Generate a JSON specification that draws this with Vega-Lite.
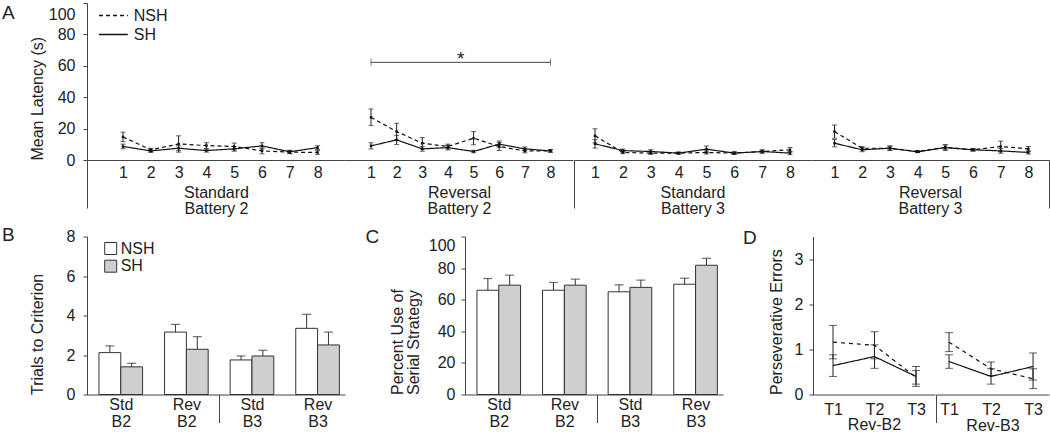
{
  "$schema": "https://vega.github.io/schema/vega-lite/v6.json",
  "background": "white",
  "padding": {"left": 2, "top": 2, "right": 0, "bottom": 0},
  "datasets": {
    "a1": [
      {"t":1,"c":"NSH","m":14.7,"lo":11.7,"hi":17.7},{"t":2,"c":"NSH","m":6.5,"lo":5.5,"hi":7.5},{"t":3,"c":"NSH","m":10.2,"lo":5.0,"hi":15.4},{"t":4,"c":"NSH","m":9.2,"lo":7.4,"hi":11.0},
      {"t":5,"c":"NSH","m":8.6,"lo":6.4,"hi":10.8},{"t":6,"c":"NSH","m":5.8,"lo":4.0,"hi":7.6},{"t":7,"c":"NSH","m":5.0,"lo":4.0,"hi":6.0},{"t":8,"c":"NSH","m":4.8,"lo":3.6,"hi":6.0},
      {"t":1,"c":"SH","m":8.6,"lo":7.1,"hi":10.1},{"t":2,"c":"SH","m":5.8,"lo":4.8,"hi":6.8},{"t":3,"c":"SH","m":7.5,"lo":6.0,"hi":9.0},{"t":4,"c":"SH","m":6.0,"lo":5.0,"hi":7.0},
      {"t":5,"c":"SH","m":7.1,"lo":5.6,"hi":8.6},{"t":6,"c":"SH","m":9.0,"lo":7.0,"hi":11.0},{"t":7,"c":"SH","m":5.2,"lo":4.2,"hi":6.2},{"t":8,"c":"SH","m":7.9,"lo":6.7,"hi":9.1}
    ],
    "a2": [
      {"t":1,"c":"NSH","m":27.2,"lo":21.9,"hi":32.5},{"t":2,"c":"NSH","m":18.1,"lo":12.8,"hi":23.4},{"t":3,"c":"NSH","m":10.7,"lo":7.1,"hi":14.3},{"t":4,"c":"NSH","m":8.6,"lo":7.1,"hi":10.1},
      {"t":5,"c":"NSH","m":13.9,"lo":9.7,"hi":18.1},{"t":6,"c":"NSH","m":8.6,"lo":6.1,"hi":11.1},{"t":7,"c":"NSH","m":5.8,"lo":4.6,"hi":7.0},{"t":8,"c":"NSH","m":5.8,"lo":5.0,"hi":6.6},
      {"t":1,"c":"SH","m":9.0,"lo":7.0,"hi":11.0},{"t":2,"c":"SH","m":12.8,"lo":9.9,"hi":15.7},{"t":3,"c":"SH","m":7.1,"lo":5.6,"hi":8.6},{"t":4,"c":"SH","m":7.9,"lo":6.4,"hi":9.4},
      {"t":5,"c":"SH","m":5.4,"lo":4.6,"hi":6.2},{"t":6,"c":"SH","m":10.1,"lo":8.1,"hi":12.1},{"t":7,"c":"SH","m":7.1,"lo":5.9,"hi":8.3},{"t":8,"c":"SH","m":5.8,"lo":5.0,"hi":6.6}
    ],
    "sig": [
      {"t":1,"m":62.2,"end":1},{"t":4.5,"m":62.2,"end":0,"label":"*"},{"t":8,"m":62.2,"end":1}
    ],
    "a3": [
      {"t":1,"c":"NSH","m":15.4,"lo":10.9,"hi":19.9},{"t":2,"c":"NSH","m":4.8,"lo":4.0,"hi":5.6},{"t":3,"c":"NSH","m":4.4,"lo":3.6,"hi":5.2},{"t":4,"c":"NSH","m":4.4,"lo":3.8,"hi":5.0},
      {"t":5,"c":"NSH","m":4.8,"lo":3.8,"hi":5.8},{"t":6,"c":"NSH","m":4.4,"lo":3.6,"hi":5.2},{"t":7,"c":"NSH","m":5.4,"lo":4.4,"hi":6.4},{"t":8,"c":"NSH","m":6.5,"lo":5.0,"hi":8.0},
      {"t":1,"c":"SH","m":10.3,"lo":7.6,"hi":13.0},{"t":2,"c":"SH","m":6.0,"lo":5.0,"hi":7.0},{"t":3,"c":"SH","m":5.4,"lo":4.2,"hi":6.6},{"t":4,"c":"SH","m":4.4,"lo":3.8,"hi":5.0},
      {"t":5,"c":"SH","m":6.9,"lo":4.9,"hi":8.9},{"t":6,"c":"SH","m":4.4,"lo":3.6,"hi":5.2},{"t":7,"c":"SH","m":5.4,"lo":4.4,"hi":6.4},{"t":8,"c":"SH","m":4.4,"lo":3.4,"hi":5.4}
    ],
    "a4": [
      {"t":1,"c":"NSH","m":18.1,"lo":13.9,"hi":22.3},{"t":2,"c":"NSH","m":7.5,"lo":6.5,"hi":8.5},{"t":3,"c":"NSH","m":7.5,"lo":6.3,"hi":8.7},{"t":4,"c":"NSH","m":5.4,"lo":4.8,"hi":6.0},
      {"t":5,"c":"NSH","m":8.1,"lo":6.6,"hi":9.6},{"t":6,"c":"NSH","m":6.5,"lo":5.7,"hi":7.3},{"t":7,"c":"NSH","m":8.6,"lo":5.2,"hi":12.0},{"t":8,"c":"NSH","m":7.1,"lo":5.6,"hi":8.6},
      {"t":1,"c":"SH","m":10.7,"lo":8.4,"hi":13.0},{"t":2,"c":"SH","m":6.5,"lo":5.3,"hi":7.7},{"t":3,"c":"SH","m":7.5,"lo":6.0,"hi":9.0},{"t":4,"c":"SH","m":5.2,"lo":4.7,"hi":5.7},
      {"t":5,"c":"SH","m":7.9,"lo":6.1,"hi":9.7},{"t":6,"c":"SH","m":6.5,"lo":5.7,"hi":7.3},{"t":7,"c":"SH","m":5.8,"lo":4.3,"hi":7.3},{"t":8,"c":"SH","m":4.8,"lo":3.8,"hi":5.8}
    ],
    "b": [
      {"g":"Std B2","c":"NSH","m":2.12,"hi":2.46},{"g":"Std B2","c":"SH","m":1.4,"hi":1.58},
      {"g":"Rev B2","c":"NSH","m":3.16,"hi":3.55},{"g":"Rev B2","c":"SH","m":2.29,"hi":2.93},
      {"g":"Std B3","c":"NSH","m":1.75,"hi":1.95},{"g":"Std B3","c":"SH","m":1.95,"hi":2.24},
      {"g":"Rev B3","c":"NSH","m":3.35,"hi":4.06},{"g":"Rev B3","c":"SH","m":2.51,"hi":3.16}
    ],
    "c": [
      {"g":"Std B2","c":"NSH","m":66.0,"hi":73.4},{"g":"Std B2","c":"SH","m":69.2,"hi":75.5},
      {"g":"Rev B2","c":"NSH","m":66.0,"hi":70.9},{"g":"Rev B2","c":"SH","m":69.2,"hi":73.0},
      {"g":"Std B3","c":"NSH","m":65.0,"hi":69.4},{"g":"Std B3","c":"SH","m":67.8,"hi":72.4},
      {"g":"Rev B3","c":"NSH","m":69.8,"hi":73.6},{"g":"Rev B3","c":"SH","m":81.8,"hi":86.2}
    ],
    "d1": [
      {"t":1,"c":"NSH","m":1.16,"lo":0.79,"hi":1.53},{"t":2,"c":"NSH","m":1.09,"lo":0.79,"hi":1.39},{"t":3,"c":"NSH","m":0.38,"lo":0.23,"hi":0.53},
      {"t":1,"c":"SH","m":0.64,"lo":0.40,"hi":0.88},{"t":2,"c":"SH","m":0.84,"lo":0.58,"hi":1.10},{"t":3,"c":"SH","m":0.40,"lo":0.18,"hi":0.62}
    ],
    "d2": [
      {"t":1,"c":"NSH","m":1.16,"lo":0.95,"hi":1.37},{"t":2,"c":"NSH","m":0.57,"lo":0.42,"hi":0.72},{"t":3,"c":"NSH","m":0.35,"lo":0.13,"hi":0.57},
      {"t":1,"c":"SH","m":0.73,"lo":0.58,"hi":0.88},{"t":2,"c":"SH","m":0.40,"lo":0.23,"hi":0.57},{"t":3,"c":"SH","m":0.62,"lo":0.32,"hi":0.92}
    ]
  },
  "vconcat": [
    {
      "hconcat": [
        {
          "width": 258, "height": 157,
          "title": {"text": "A", "dx": -85, "dy": 24.5},
          "data": {"name": "a1"},
          "encoding": {
            "x": {"field": "t", "type": "quantitative", "scale": {"domain": [-0.295, 8.986], "nice": false, "zero": false},
                  "axis": {"title": ["Standard", "Battery 2"], "values": [-0.293,1,2,3,4,5,6,7,8], "labelExpr": "datum.value < 0.5 ? '' : datum.label", "format": "d", "ticks": true, "tickSize": 48, "tickColor": "#444",
                           "tickOpacity": {"condition": {"test": "datum.value < 0.5", "value": 1}, "value": 0}, "labelPadding": -44, "titlePadding": -24, "titleLineHeight": 16, "labelFlush": false, "labelOverlap": false}},
            "y": {"field": "m", "type": "quantitative", "scale": {"domain": [0, 100], "nice": false},
                  "axis": {"title": "Mean Latency (s)", "values": [0,20,40,60,80,100], "tickSize": 4, "labelPadding": 8, "titleAnchor": "start", "titlePadding": 3,
                           "labelBaseline": {"condition": {"test": "datum.value == 100", "value": "top"}, "value": "middle"},
                           "labelOffset": {"condition": {"test": "datum.value == 100", "value": 3}, "value": 0}}}
          },
          "layer": [
            {"mark": {"type": "errorbar", "ticks": {"size": 5, "thickness": 1, "color": "#222"}, "rule": {"color": "#222", "strokeWidth": 1}},
             "encoding": {"y": {"field": "lo", "type": "quantitative", "scale": {"domain": [0, 100], "nice": false},
                                "axis": {"title": "Mean Latency (s)", "values": [0,20,40,60,80,100], "tickSize": 4, "labelPadding": 8, "titleAnchor": "start", "titlePadding": 3,
                                         "labelBaseline": {"condition": {"test": "datum.value == 100", "value": "top"}, "value": "middle"},
                                         "labelOffset": {"condition": {"test": "datum.value == 100", "value": 3}, "value": 0}}},
                          "y2": {"field": "hi"}}},
            {"mark": {"type": "line", "color": "#111", "strokeWidth": 1.2},
             "encoding": {"strokeDash": {"field": "c", "type": "nominal", "scale": {"domain": ["NSH", "SH"], "range": [[4, 3], [1, 0]]},
                          "legend": {"title": null, "orient": "none", "legendX": 17.4, "legendY": 3.5, "symbolType": "M-1.8,0H1.8", "symbolSize": 256, "symbolStrokeWidth": 1.3, "symbolStrokeColor": "#111", "labelOffset": 11.4, "rowPadding": 2}}}},
            {"mark": {"type": "point", "shape": "square", "filled": true, "size": 6, "color": "#111", "opacity": 1}}
          ]
        },
        {
          "width": 228, "height": 157,
          "data": {"name": "a2"},
          "encoding": {
            "x": {"field": "t", "type": "quantitative", "scale": {"domain": [-0.014, 8.878], "nice": false, "zero": false},
                  "axis": {"title": ["Reversal", "Battery 2"], "values": [1,2,3,4,5,6,7,8], "format": "d", "ticks": true, "tickSize": 48, "tickOpacity": 0, "labelPadding": -44, "titlePadding": -24, "titleLineHeight": 16, "labelFlush": false, "labelOverlap": false}},
            "y": {"field": "m", "type": "quantitative", "scale": {"domain": [0, 100], "nice": false}, "axis": null}
          },
          "layer": [
            {"mark": {"type": "errorbar", "ticks": {"size": 5, "thickness": 1, "color": "#222"}, "rule": {"color": "#222", "strokeWidth": 1}},
             "encoding": {"y": {"field": "lo", "type": "quantitative", "scale": {"domain": [0, 100], "nice": false}, "axis": null}, "y2": {"field": "hi"}}},
            {"mark": {"type": "line", "color": "#111", "strokeWidth": 1.2},
             "encoding": {"strokeDash": {"field": "c", "type": "nominal", "scale": {"domain": ["NSH", "SH"], "range": [[4, 3], [1, 0]]}, "legend": null}}},
            {"mark": {"type": "point", "shape": "square", "filled": true, "size": 6, "color": "#111", "opacity": 1}},
            {"data": {"name": "sig"}, "mark": {"type": "line", "color": "#444", "strokeWidth": 1}},
            {"data": {"name": "sig"}, "transform": [{"filter": "datum.end == 1"}], "mark": {"type": "tick", "orient": "vertical", "size": 7, "thickness": 1, "color": "#444"}},
            {"data": {"name": "sig"}, "transform": [{"filter": "datum.end == 0"}], "mark": {"type": "text", "fontSize": 19, "font": "Liberation Sans", "color": "#222", "baseline": "alphabetic", "align": "center", "dy": 3},
             "encoding": {"text": {"field": "label"}}}
          ]
        },
        {
          "width": 237, "height": 157,
          "data": {"name": "a3"},
          "encoding": {
            "x": {"field": "t", "type": "quantitative", "scale": {"domain": [0.246, 8.753], "nice": false, "zero": false},
                  "axis": {"title": ["Standard", "Battery 3"], "values": [0.248,1,2,3,4,5,6,7,8], "labelExpr": "datum.value < 0.5 ? '' : datum.label", "format": "d", "ticks": true, "tickSize": 48, "tickColor": "#444",
                           "tickOpacity": {"condition": {"test": "datum.value < 0.5", "value": 1}, "value": 0}, "labelPadding": -44, "titlePadding": -24, "titleLineHeight": 16, "labelFlush": false, "labelOverlap": false}},
            "y": {"field": "m", "type": "quantitative", "scale": {"domain": [0, 100], "nice": false}, "axis": null}
          },
          "layer": [
            {"mark": {"type": "errorbar", "ticks": {"size": 5, "thickness": 1, "color": "#222"}, "rule": {"color": "#222", "strokeWidth": 1}},
             "encoding": {"y": {"field": "lo", "type": "quantitative", "scale": {"domain": [0, 100], "nice": false}, "axis": null}, "y2": {"field": "hi"}}},
            {"mark": {"type": "line", "color": "#111", "strokeWidth": 1.2},
             "encoding": {"strokeDash": {"field": "c", "type": "nominal", "scale": {"domain": ["NSH", "SH"], "range": [[4, 3], [1, 0]]}, "legend": null}}},
            {"mark": {"type": "point", "shape": "square", "filled": true, "size": 6, "color": "#111", "opacity": 1}}
          ]
        },
        {
          "width": 238, "height": 157,
          "data": {"name": "a4"},
          "encoding": {
            "x": {"field": "t", "type": "quantitative", "scale": {"domain": [0.152, 8.744], "nice": false, "zero": false},
                  "axis": {"title": ["Reversal", "Battery 3"], "values": [1,2,3,4,5,6,7,8,8.742], "labelExpr": "datum.value > 8.5 ? '' : datum.label", "format": "d", "ticks": true, "tickSize": 48, "tickColor": "#444",
                           "tickOpacity": {"condition": {"test": "datum.value > 8.5", "value": 1}, "value": 0}, "labelPadding": -44, "titlePadding": -24, "titleLineHeight": 16, "labelFlush": false, "labelOverlap": false}},
            "y": {"field": "m", "type": "quantitative", "scale": {"domain": [0, 100], "nice": false}, "axis": null}
          },
          "layer": [
            {"mark": {"type": "errorbar", "ticks": {"size": 5, "thickness": 1, "color": "#222"}, "rule": {"color": "#222", "strokeWidth": 1}},
             "encoding": {"y": {"field": "lo", "type": "quantitative", "scale": {"domain": [0, 100], "nice": false}, "axis": null}, "y2": {"field": "hi"}}},
            {"mark": {"type": "line", "color": "#111", "strokeWidth": 1.2},
             "encoding": {"strokeDash": {"field": "c", "type": "nominal", "scale": {"domain": ["NSH", "SH"], "range": [[4, 3], [1, 0]]}, "legend": null}}},
            {"mark": {"type": "point", "shape": "square", "filled": true, "size": 6, "color": "#111", "opacity": 1}}
          ]
        }
      ],
      "spacing": 0,
      "resolve": {"scale": {"strokeDash": "independent"}, "legend": {"strokeDash": "independent"}}
    },
    {
      "hconcat": [
        {
          "width": 258, "height": 158,
          "title": {"text": "B", "dx": -85, "dy": 20.5},
          "data": {"name": "b"},
          "encoding": {
            "x": {"field": "g", "type": "nominal", "sort": null,
                  "scale": {"type": "band", "domain": ["Std B2", "Rev B2", "Std B3", "Rev B3"], "paddingInner": 0.335, "paddingOuter": 0.134, "align": 0.68},
                  "axis": {"title": null, "labelExpr": "split(datum.label, ' ')", "ticks": true, "tickSize": 28, "tickOffset": -32.8, "labelOffset": 32.8, "tickColor": "#444",
                           "tickOpacity": {"condition": {"test": "datum.value == 'Std B3'", "value": 1}, "value": 0}, "labelPadding": -26, "labelAngle": 0, "labelLineHeight": 16.7}},
            "y": {"field": "m", "type": "quantitative", "scale": {"domain": [0, 8], "nice": false},
                  "axis": {"title": "Trials to Criterion", "values": [0,2,4,6,8], "tickSize": 4, "labelPadding": 8, "titleAnchor": "start", "titlePadding": 20.7}}
          },
          "layer": [
            {"mark": {"type": "rule", "color": "#333", "strokeWidth": 1},
             "encoding": {"xOffset": {"field": "c", "type": "nominal", "scale": {"domain": ["NSH", "SH"], "paddingInner": 0, "paddingOuter": 0}}, "y2": {"field": "hi"}}},
            {"mark": {"type": "bar", "stroke": "#333", "strokeWidth": 1},
             "encoding": {"xOffset": {"field": "c", "type": "nominal", "scale": {"domain": ["NSH", "SH"], "paddingInner": 0, "paddingOuter": 0}},
                          "fill": {"field": "c", "type": "nominal", "scale": {"domain": ["NSH", "SH"], "range": ["#ffffff", "#cfcfcf"]},
                                   "legend": {"title": null, "orient": "none", "legendX": 15.7, "legendY": 4, "symbolType": "square", "symbolSize": 144, "symbolStrokeColor": "#333", "symbolStrokeWidth": 1, "labelOffset": 2, "rowPadding": 1.7}}}},
            {"mark": {"type": "tick", "orient": "horizontal", "size": 9, "thickness": 1.2, "color": "#333"},
             "encoding": {"xOffset": {"field": "c", "type": "nominal", "scale": {"domain": ["NSH", "SH"], "paddingInner": 0, "paddingOuter": 0}},
                          "y": {"field": "hi", "type": "quantitative", "scale": {"domain": [0, 8], "nice": false},
                                "axis": {"title": "Trials to Criterion", "values": [0,2,4,6,8], "tickSize": 4, "labelPadding": 8, "titleAnchor": "start", "titlePadding": 20.7}}}}
          ]
        },
        {
          "width": 258, "height": 158,
          "title": {"text": "C", "dx": -99.5, "dy": 14.5},
          "data": {"name": "c"},
          "encoding": {
            "x": {"field": "g", "type": "nominal", "sort": null,
                  "scale": {"type": "band", "domain": ["Std B2", "Rev B2", "Std B3", "Rev B3"], "paddingInner": 0.335, "paddingOuter": 0.134, "align": 0.68},
                  "axis": {"title": null, "labelExpr": "split(datum.label, ' ')", "ticks": true, "tickSize": 28, "tickOffset": -32.8, "labelOffset": 32.8, "tickColor": "#444",
                           "tickOpacity": {"condition": {"test": "datum.value == 'Std B3'", "value": 1}, "value": 0}, "labelPadding": -26, "labelAngle": 0, "labelLineHeight": 16.7}},
            "y": {"field": "m", "type": "quantitative", "scale": {"domain": [0, 100], "nice": false},
                  "axis": {"title": ["Percent Use of", "Serial Strategy"], "values": [0,20,40,60,80,100], "tickSize": 4, "labelPadding": 6, "titleAnchor": "start", "titlePadding": 6.9, "titleLineHeight": 15.5,
                           "labelBaseline": {"condition": {"test": "datum.value == 100", "value": "top"}, "value": "middle"},
                           "labelOffset": {"condition": {"test": "datum.value == 100", "value": 1}, "value": 0}}}
          },
          "layer": [
            {"mark": {"type": "rule", "color": "#333", "strokeWidth": 1},
             "encoding": {"xOffset": {"field": "c", "type": "nominal", "scale": {"domain": ["NSH", "SH"], "paddingInner": 0, "paddingOuter": 0}}, "y2": {"field": "hi"}}},
            {"mark": {"type": "bar", "stroke": "#333", "strokeWidth": 1},
             "encoding": {"xOffset": {"field": "c", "type": "nominal", "scale": {"domain": ["NSH", "SH"], "paddingInner": 0, "paddingOuter": 0}},
                          "fill": {"field": "c", "type": "nominal", "scale": {"domain": ["NSH", "SH"], "range": ["#ffffff", "#cfcfcf"]}, "legend": null}}},
            {"mark": {"type": "tick", "orient": "horizontal", "size": 9, "thickness": 1.2, "color": "#333"},
             "encoding": {"xOffset": {"field": "c", "type": "nominal", "scale": {"domain": ["NSH", "SH"], "paddingInner": 0, "paddingOuter": 0}},
                          "y": {"field": "hi", "type": "quantitative", "scale": {"domain": [0, 100], "nice": false},
                                "axis": {"title": ["Percent Use of", "Serial Strategy"], "values": [0,20,40,60,80,100], "tickSize": 4, "labelPadding": 6, "titleAnchor": "start", "titlePadding": 6.9, "titleLineHeight": 15.5,
                                         "labelBaseline": {"condition": {"test": "datum.value == 100", "value": "top"}, "value": "middle"},
                                         "labelOffset": {"condition": {"test": "datum.value == 100", "value": 1}, "value": 0}}}}}
          ]
        },
        {
          "hconcat": [
            {
              "width": 122, "height": 158,
              "title": {"text": "D", "dx": -70, "dy": 15.7},
              "data": {"name": "d1"},
              "encoding": {
                "x": {"field": "t", "type": "quantitative", "scale": {"domain": [0.518, 3.458], "nice": false, "zero": false},
                      "axis": {"title": "Rev-B2", "values": [1,2,3], "labelExpr": "'T' + datum.value", "ticks": true, "tickSize": 28, "tickOpacity": 0, "labelPadding": -21.5, "titlePadding": -6, "labelFlush": false}},
                "y": {"field": "m", "type": "quantitative", "scale": {"domain": [0, 3.5], "nice": false},
                      "axis": {"title": "Perseverative Errors", "values": [0,1,2,3], "tickSize": 4, "labelPadding": 6, "titleAnchor": "start", "titlePadding": 9.4}}
              },
              "layer": [
                {"mark": {"type": "errorbar", "ticks": {"size": 8, "thickness": 1, "color": "#222"}, "rule": {"color": "#222", "strokeWidth": 1}},
                 "encoding": {"y": {"field": "lo", "type": "quantitative", "scale": {"domain": [0, 3.5], "nice": false},
                                    "axis": {"title": "Perseverative Errors", "values": [0,1,2,3], "tickSize": 4, "labelPadding": 6, "titleAnchor": "start", "titlePadding": 9.4}},
                              "y2": {"field": "hi"}}},
                {"mark": {"type": "line", "color": "#111", "strokeWidth": 1.2},
                 "encoding": {"strokeDash": {"field": "c", "type": "nominal", "scale": {"domain": ["NSH", "SH"], "range": [[4, 4], [1, 0]]}, "legend": null}}}
              ]
            },
            {
              "width": 113, "height": 158,
              "data": {"name": "d2"},
              "encoding": {
                "x": {"field": "t", "type": "quantitative", "scale": {"domain": [0.69, 3.38], "nice": false, "zero": false},
                      "axis": {"title": "Rev-B3", "values": [0.692,1,2,3], "labelExpr": "datum.value < 0.9 ? '' : 'T' + datum.value", "ticks": true, "tickSize": 28, "tickColor": "#444",
                               "tickOpacity": {"condition": {"test": "datum.value < 0.9", "value": 1}, "value": 0}, "labelPadding": -21.5, "titlePadding": -6, "labelFlush": false, "labelOverlap": false}},
                "y": {"field": "m", "type": "quantitative", "scale": {"domain": [0, 3.5], "nice": false}, "axis": null}
              },
              "layer": [
                {"mark": {"type": "errorbar", "ticks": {"size": 8, "thickness": 1, "color": "#222"}, "rule": {"color": "#222", "strokeWidth": 1}},
                 "encoding": {"y": {"field": "lo", "type": "quantitative", "scale": {"domain": [0, 3.5], "nice": false}, "axis": null}, "y2": {"field": "hi"}}},
                {"mark": {"type": "line", "color": "#111", "strokeWidth": 1.2},
                 "encoding": {"strokeDash": {"field": "c", "type": "nominal", "scale": {"domain": ["NSH", "SH"], "range": [[4, 4], [1, 0]]}, "legend": null}}}
              ]
            }
          ],
          "spacing": 0,
          "resolve": {"scale": {"strokeDash": "independent"}, "legend": {"strokeDash": "independent"}}
        }
      ],
      "spacing": 20,
      "resolve": {"scale": {"strokeDash": "independent", "fill": "independent"}, "legend": {"strokeDash": "independent", "fill": "independent"}}
    }
  ],
  "spacing": 8.5,
  "resolve": {"scale": {"strokeDash": "independent", "fill": "independent"}, "legend": {"strokeDash": "independent", "fill": "independent"}},
  "config": {
    "font": "Liberation Sans",
    "view": {"stroke": null},
    "axis": {"labelFont": "Liberation Sans", "titleFont": "Liberation Sans", "labelFontSize": 16, "titleFontSize": 16, "titleFontWeight": "normal", "labelColor": "#222", "titleColor": "#222", "domainColor": "#444", "tickColor": "#444", "grid": false, "labelFlush": false},
    "title": {"font": "Liberation Sans", "fontSize": 19, "fontWeight": "normal", "color": "#222", "anchor": "start", "frame": "group", "baseline": "top", "offset": 0},
    "legend": {"labelFont": "Liberation Sans", "labelFontSize": 16, "labelColor": "#222", "padding": 0}
  }
}
